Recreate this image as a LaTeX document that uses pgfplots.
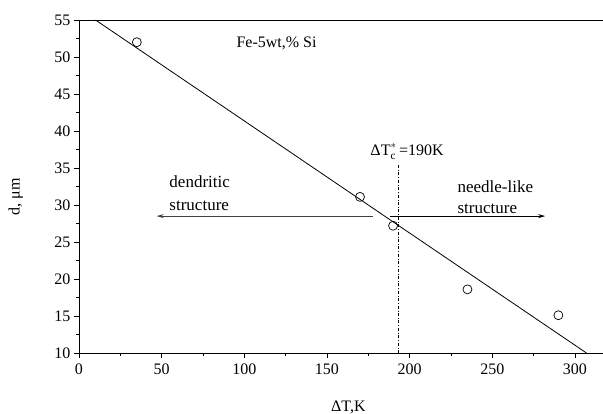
\documentclass[border=0pt]{standalone}
\usepackage{fontspec}
\setmainfont{Liberation Serif}
\usepackage{pgfplots}
\pgfplotsset{compat=1.18}
\usetikzlibrary{arrows.meta}
\begin{document}
\begin{tikzpicture}
\path[use as bounding box] (-79pt,-60pt) rectangle (524pt,353pt);
\begin{axis}[
  scale only axis, width=524pt, height=333pt,
  xmin=0, xmax=317, ymin=10, ymax=55,
  axis x line=bottom, axis y line=left,
  axis line style={-, line width=0.9pt},
  xtick={0,50,...,300}, ytick={10,15,...,55},
  minor x tick num=1, minor y tick num=1,
  tick align=outside, major tick length=5pt, minor tick length=3pt,
  tick style={black, line width=0.8pt},
  /pgf/number format/assume math mode=true,
  ticklabel style={font=\fontsize{16}{19}\selectfont},
  xticklabel style={yshift=-2pt},
  label style={font=\fontsize{16}{19}\selectfont},
  xlabel={ΔT,K}, ylabel={d, μm},
  xlabel style={at={(axis description cs:0.514,0)}, anchor=base, yshift=-58pt},
  ylabel style={at={(axis description cs:-0.1,0.47)}, anchor=south},
  clip=false,
]
\draw[line width=0.9pt] (rel axis cs:0,1) -- (rel axis cs:1,1);
\addplot[black, line width=0.8pt] coordinates {(10,55) (307,10)};
\addplot[only marks, mark=o, mark size=4.5pt, mark options={line width=0.7pt, black}] coordinates {(35,52) (170,31.1) (190,27.2) (235,18.6) (290,15.1)};
\addplot[black, dash dot, line width=0.6pt] coordinates {(193,35.4) (193,10)};
\addplot[black!75, line width=0.8pt, -{Stealth[length=7pt,width=4pt]}] coordinates {(178,28.5) (47,28.5)};
\addplot[black, line width=0.8pt, -{Stealth[length=7pt,width=4pt]}] coordinates {(188,28.5) (282,28.5)};
\node[anchor=base west, font=\fontsize{16}{19}\selectfont] at (axis cs:93.2,51.35) {Fe-5wt,\% Si};
\node[anchor=base west, font=\fontsize{16}{19}\selectfont] at (axis cs:174.2,36.75) {ΔT$^{*}_{\mathrm{c}}$\,=190K};
\node[anchor=base west, font=\fontsize{17}{20}\selectfont] at (axis cs:52.6,32.3) {dendritic};
\node[anchor=base west, font=\fontsize{17}{20}\selectfont] at (axis cs:52.6,29.2) {structure};
\node[anchor=base west, font=\fontsize{17}{20}\selectfont] at (axis cs:226.9,31.75) {needle-like};
\node[anchor=base west, font=\fontsize{17}{20}\selectfont] at (axis cs:226.9,28.8) {structure};
\end{axis}
\end{tikzpicture}
\end{document}
